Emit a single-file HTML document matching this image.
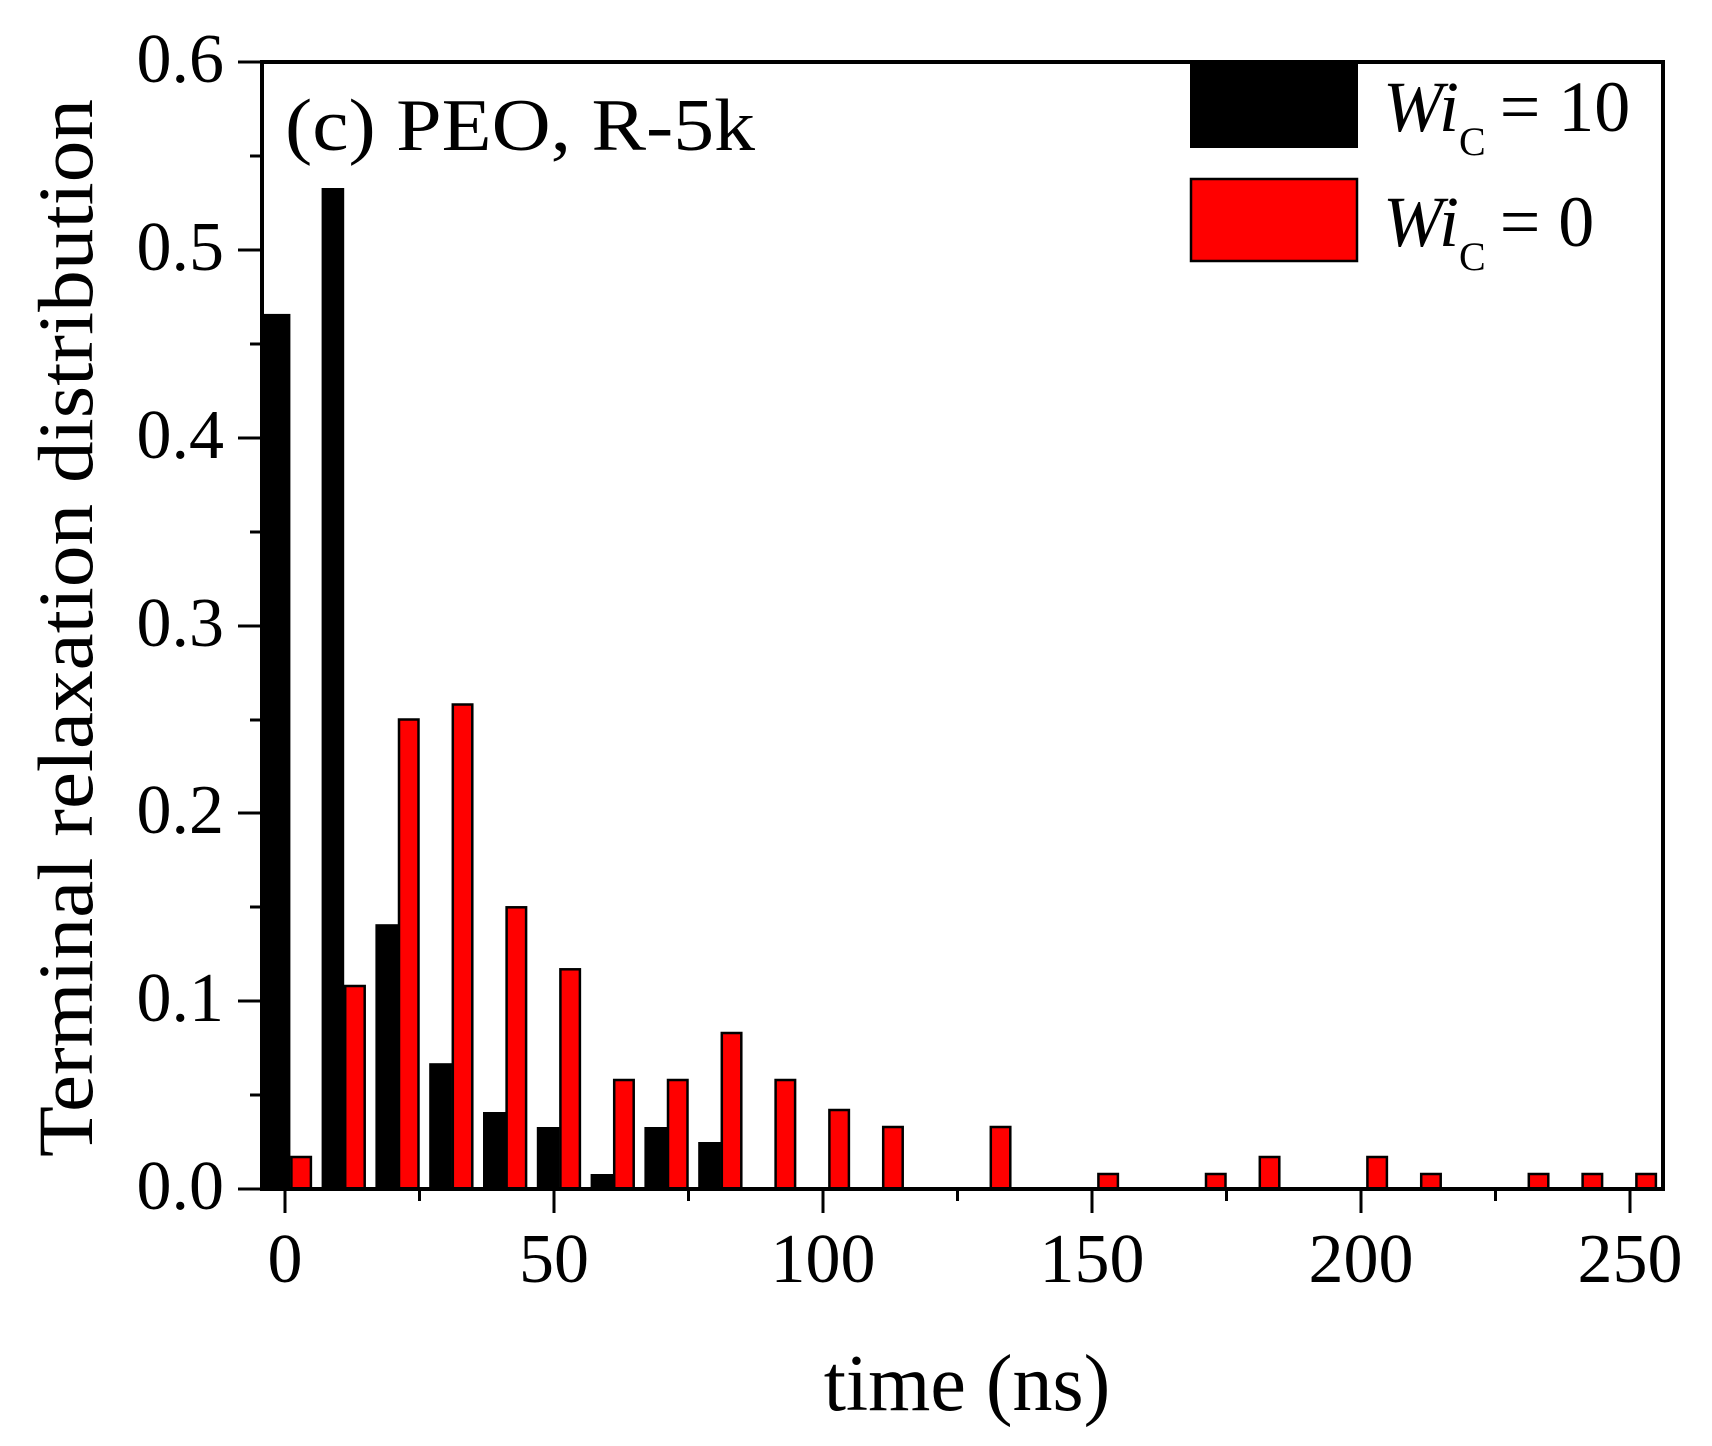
<!DOCTYPE html>
<html><head><meta charset="utf-8"><style>
html,body{margin:0;padding:0;background:#fff;}
svg{display:block;}
text{font-family:"Liberation Serif",serif;fill:#000;}
</style></head><body>
<svg width="1712" height="1446" viewBox="0 0 1712 1446" xmlns="http://www.w3.org/2000/svg">
<g fill="#000">
<rect x="264" y="313.9" width="26.4" height="875.1"/>
<rect x="321.6" y="188" width="22.6" height="1001"/>
<rect x="375.4" y="924.2" width="22.6" height="264.8"/>
<rect x="429.2" y="1063.2" width="22.6" height="125.8"/>
<rect x="483" y="1112" width="22.6" height="77"/>
<rect x="536.8" y="1127" width="22.6" height="62"/>
<rect x="590.6" y="1174" width="22.6" height="15"/>
<rect x="644.4" y="1127" width="22.6" height="62"/>
<rect x="698.2" y="1142" width="22.6" height="47"/>
</g>
<g fill="#ff0000" stroke="#000" stroke-width="2.5">
<rect x="291.4" y="1157" width="19.5" height="32"/>
<rect x="345.2" y="986" width="19.5" height="203"/>
<rect x="399" y="719.5" width="19.5" height="469.5"/>
<rect x="452.8" y="704.5" width="19.5" height="484.5"/>
<rect x="506.6" y="907.3" width="19.5" height="281.7"/>
<rect x="560.4" y="969.3" width="19.5" height="219.7"/>
<rect x="614.2" y="1080" width="19.5" height="109"/>
<rect x="668" y="1080" width="19.5" height="109"/>
<rect x="721.8" y="1033" width="19.5" height="156"/>
<rect x="775.6" y="1080" width="19.5" height="109"/>
<rect x="829.4" y="1110" width="19.5" height="79"/>
<rect x="883.2" y="1127" width="19.5" height="62"/>
<rect x="990.8" y="1127" width="19.5" height="62"/>
<rect x="1098.4" y="1174" width="19.5" height="15"/>
<rect x="1206" y="1174" width="19.5" height="15"/>
<rect x="1259.8" y="1157" width="19.5" height="32"/>
<rect x="1367.4" y="1157" width="19.5" height="32"/>
<rect x="1421.2" y="1174" width="19.5" height="15"/>
<rect x="1528.8" y="1174" width="19.5" height="15"/>
<rect x="1582.6" y="1174" width="19.5" height="15"/>
<rect x="1636.4" y="1174" width="19.5" height="15"/>
</g>
<rect x="262" y="62" width="1401" height="1127" fill="none" stroke="#000" stroke-width="4"/>
<g stroke="#000" stroke-width="3">
<line x1="238" y1="1189" x2="262" y2="1189"/><line x1="250" y1="1095" x2="262" y2="1095"/>
<line x1="238" y1="1001" x2="262" y2="1001"/><line x1="250" y1="907" x2="262" y2="907"/>
<line x1="238" y1="813" x2="262" y2="813"/><line x1="250" y1="720" x2="262" y2="720"/>
<line x1="238" y1="626" x2="262" y2="626"/><line x1="250" y1="532" x2="262" y2="532"/>
<line x1="238" y1="438" x2="262" y2="438"/><line x1="250" y1="344" x2="262" y2="344"/>
<line x1="238" y1="250" x2="262" y2="250"/><line x1="250" y1="156" x2="262" y2="156"/>
<line x1="238" y1="62" x2="262" y2="62"/>
<line x1="285" y1="1189" x2="285" y2="1213"/><line x1="419.5" y1="1189" x2="419.5" y2="1201"/>
<line x1="554" y1="1189" x2="554" y2="1213"/><line x1="688.5" y1="1189" x2="688.5" y2="1201"/>
<line x1="823" y1="1189" x2="823" y2="1213"/><line x1="957.5" y1="1189" x2="957.5" y2="1201"/>
<line x1="1092" y1="1189" x2="1092" y2="1213"/><line x1="1226.5" y1="1189" x2="1226.5" y2="1201"/>
<line x1="1361" y1="1189" x2="1361" y2="1213"/><line x1="1495.5" y1="1189" x2="1495.5" y2="1201"/>
<line x1="1630" y1="1189" x2="1630" y2="1213"/>
</g>
<g font-size="70" text-anchor="end">
<text x="224" y="1209">0.0</text><text x="224" y="1021">0.1</text><text x="224" y="833">0.2</text>
<text x="224" y="646">0.3</text><text x="224" y="458">0.4</text><text x="224" y="270">0.5</text>
<text x="224" y="82">0.6</text>
</g>
<g font-size="70" text-anchor="middle">
<text x="285" y="1282">0</text><text x="554" y="1282">50</text><text x="823" y="1282">100</text>
<text x="1092" y="1282">150</text><text x="1361" y="1282">200</text><text x="1630" y="1282">250</text>
</g>
<text x="967" y="1410" font-size="80" text-anchor="middle">time (ns)</text>
<text transform="translate(92,628) rotate(-90)" font-size="78" text-anchor="middle" textLength="1058" lengthAdjust="spacingAndGlyphs">Terminal relaxation distribution</text>
<text x="285" y="150" font-size="74" textLength="470" lengthAdjust="spacingAndGlyphs">(c) PEO, R-5k</text>
<rect x="1190" y="63" width="168" height="85" fill="#000"/>
<rect x="1191" y="179" width="166" height="82" fill="#ff0000" stroke="#000" stroke-width="2.5"/>
<g font-size="72">
<text x="1383" y="131"><tspan font-style="italic">Wi</tspan><tspan font-size="40" dy="24">C</tspan><tspan dy="-24" dx="14">= 10</tspan></text>
<text x="1383" y="246"><tspan font-style="italic">Wi</tspan><tspan font-size="40" dy="24">C</tspan><tspan dy="-24" dx="14">= 0</tspan></text>
</g>
</svg>
</body></html>
